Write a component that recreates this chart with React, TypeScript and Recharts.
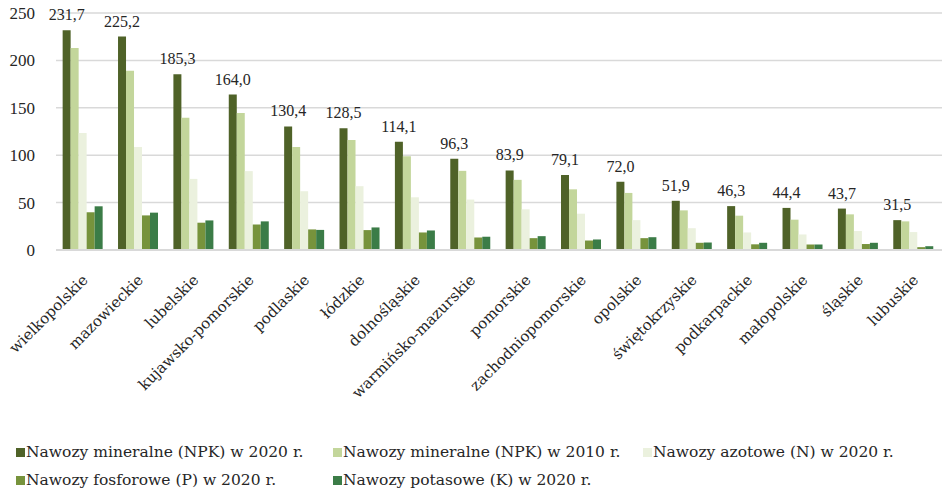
import { BarChart, Bar, XAxis, YAxis, CartesianGrid, LabelList } from 'recharts'

const regions = [
  'wielkopolskie', 'mazowieckie', 'lubelskie', 'kujawsko-pomorskie', 'podlaskie', 'łódzkie',
  'dolnośląskie', 'warmińsko-mazurskie', 'pomorskie', 'zachodniopomorskie', 'opolskie',
  'świętokrzyskie', 'podkarpackie', 'małopolskie', 'śląskie', 'lubuskie',
]
const npk2020 = [231.7, 225.2, 185.3, 164.0, 130.4, 128.5, 114.1, 96.3, 83.9, 79.1, 72.0, 51.9, 46.3, 44.4, 43.7, 31.5]
const npk2010 = [213, 189, 139.6, 144.6, 108.6, 116, 99, 83.5, 74, 64, 60.2, 41.8, 36.2, 32, 37.6, 30.2]
const nitrogen = [123.4, 108.6, 75, 83.2, 62, 67.3, 55.6, 53.2, 42.9, 38.3, 31.5, 23, 18.5, 16.4, 20, 18.9]
const phosphorus = [39.8, 36.5, 28.8, 27, 21.7, 21, 18.5, 13.2, 12.5, 10, 12.5, 7.6, 6, 5.8, 6.3, 3]
const potassium = [46.1, 39.4, 31.2, 30.2, 21.2, 23.8, 20.6, 14, 14.6, 11.1, 13.5, 7.9, 7.6, 5.8, 7.6, 4]
const yTicks = [0, 50, 100, 150, 200, 250]

const series = [
  { key: 'npk2020', name: 'Nawozy mineralne (NPK) w 2020 r.', color: '#4f6228' },
  { key: 'npk2010', name: 'Nawozy mineralne (NPK) w 2010 r.', color: '#c3d69b' },
  { key: 'n', name: 'Nawozy azotowe (N) w 2020 r.', color: '#ebf1de' },
  { key: 'p', name: 'Nawozy fosforowe (P) w 2020 r.', color: '#77933c' },
  { key: 'k', name: 'Nawozy potasowe (K) w 2020 r.', color: '#3b7c47' },
]

const data = regions.map((name, i) => ({
  name,
  npk2020: npk2020[i],
  npk2010: npk2010[i],
  n: nitrogen[i],
  p: phosphorus[i],
  k: potassium[i],
}))

const FONT = '"Liberation Serif", "DejaVu Serif", serif'
const TICK_FONT = '"DejaVu Serif", serif'
const TEXT = '#262626'

function RotatedTick({ x, y, payload }: any) {
  const tx = x + 5
  const ty = y + 31
  return (
    <text
      x={tx}
      y={ty}
      transform={`rotate(-45 ${tx} ${ty})`}
      textAnchor="end"
      fontFamily={TICK_FONT}
      fontSize={15}
      fill={TEXT}
    >
      {payload.value}
    </text>
  )
}

// legend drawn as plain html under the plot, two rows like the excel original
function LegendBox() {
  const cols = [317, 310, 300]
  return (
    <div
      style={{
        position: 'absolute',
        left: 0,
        top: 442,
        display: 'grid',
        gridTemplateColumns: cols.map((c) => c + 'px').join(' '),
        rowGap: 7,
        paddingLeft: 16,
      }}
    >
      {series.map((s) => (
        <div key={s.key} style={{ display: 'flex', alignItems: 'center', height: 21, whiteSpace: 'nowrap' }}>
          <span style={{ width: 9, height: 9, background: s.color, marginRight: 1, flex: 'none' }} />
          <span style={{ fontFamily: TICK_FONT, fontSize: 15.5, lineHeight: '21px', color: TEXT }}>
            {s.name}
          </span>
        </div>
      ))}
    </div>
  )
}

export default function App() {
  return (
    <div style={{ position: 'absolute', top: 0, left: 0, width: 942, height: 492, background: '#fff' }}>
      <BarChart
        width={942}
        height={492}
        data={data}
        margin={{ top: 13, right: 0, left: 16, bottom: 0 }}
        barGap={0}
        barCategoryGap="12%"
      >
        <CartesianGrid vertical={false} stroke="#d9d9d9" strokeWidth={1.5} />
        <XAxis
          dataKey="name"
          interval={0}
          height={242}
          tick={<RotatedTick />}
          tickLine={false}
          tickSize={0}
          tickMargin={0}
          axisLine={{ stroke: '#d9d9d9', strokeWidth: 2 }}
        />
        <YAxis
          width={40}
          domain={[0, 250]}
          ticks={yTicks}
          axisLine={false}
          tickLine={false}
          tickSize={0}
          tickMargin={21}
          tick={{ fontFamily: FONT, fontSize: 17, fill: TEXT }}
        />
        {series.map((s) => (
          <Bar key={s.key} dataKey={s.key} name={s.name} fill={s.color} isAnimationActive={false}>
            {s.key === 'npk2020' && (
              <LabelList
                dataKey="npk2020"
                position="top"
                offset={10}
                fontFamily={FONT}
                fontSize={16}
                fill={TEXT}
                formatter={(v: any) => Number(v).toFixed(1).replace('.', ',')}
              />
            )}
          </Bar>
        ))}
      </BarChart>
      <LegendBox />
    </div>
  )
}
